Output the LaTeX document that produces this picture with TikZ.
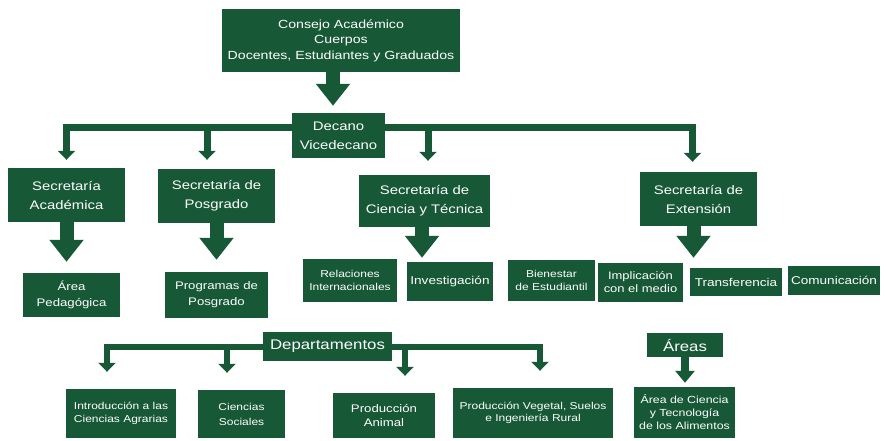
\documentclass[tikz,border=0pt]{standalone}
\usepackage{fontspec}
\setmainfont{Liberation Sans}[FakeStretch=1.2]
\usetikzlibrary{arrows.meta}
\definecolor{dkgreen}{RGB}{23,88,55}

\begin{document}
\begin{tikzpicture}[x=1pt, y=-1pt,
box/.style={rectangle, fill=dkgreen, text=white, align=center, inner sep=1pt},
topbox/.style={box, font=\fontsize{11.8}{15.5}\selectfont},
secbox/.style={box, font=\fontsize{12.4}{19}\selectfont},
unitbox/.style={box, font=\fontsize{11}{16}\selectfont},
subbox/.style={box, font=\fontsize{10}{12.5}\selectfont},
onebox/.style={box, font=\fontsize{11.3}{13}\selectfont},
headbox/.style={box, font=\fontsize{14}{16}\selectfont},
pipe/.style={draw=dkgreen, line width=7pt, -{Triangle[width=17pt,length=9pt]}},
block/.style={draw=dkgreen, line width=14pt, -{Triangle[width=33pt,length=22pt]}},
smallblock/.style={draw=dkgreen, line width=8pt, -{Triangle[width=19pt,length=12pt]}}]

\useasboundingbox (0,0) rectangle (886,441);

%% top of the chart
\node[topbox, minimum width=238pt, minimum height=63pt] (con) at (341,40.5)
      {Consejo Académico\\Cuerpos\\Docentes, Estudiantes y Graduados};
\node[secbox, minimum width=93pt, minimum height=45pt] (dec) at (338.5,135.5)
      {Decano\\Vicedecano};

%% secretarias
\node[secbox, minimum width=117pt, minimum height=54pt] (sa) at (66.5,195) {Secretaría\\Académica};
\node[secbox, minimum width=117pt, minimum height=54pt] (sp) at (216.5,196) {Secretaría de\\Posgrado};
\node[secbox, minimum width=131pt, minimum height=52pt] (sct) at (424.5,201) {Secretaría de\\Ciencia y Técnica};
\node[secbox, minimum width=117pt, minimum height=54pt] (se) at (698.5,199) {Secretaría de\\Extensión};

%% units below the secretarias
\node[unitbox, minimum width=97pt, minimum height=44pt] (ap) at (71.5,295) {Área\\Pedagógica};
\node[unitbox, minimum width=103pt, minimum height=46pt] (pp) at (216.5,295) {Programas de\\Posgrado};
\node[subbox, minimum width=94pt, minimum height=43pt] (ri) at (350,280.5) {Relaciones\\Internacionales};
\node[onebox, minimum width=86pt, minimum height=39pt] (inv) at (450,281.5) {Investigación};
\node[subbox, minimum width=87pt, minimum height=41pt] (bie) at (551.5,280.5) {Bienestar\\de Estudiantil};
\node[subbox, font=\fontsize{10.8}{13}\selectfont, minimum width=85pt, minimum height=39pt] (imp) at (640.5,282.5) {Implicación\\con el medio};
\node[onebox, minimum width=92pt, minimum height=28pt] (tra) at (736,282) {Transferencia};
\node[onebox, minimum width=92pt, minimum height=29pt] (com) at (834,280.5) {Comunicación};

%% departamentos and areas
\node[headbox, minimum width=129pt, minimum height=29pt] (dep) at (327.5,346.5) {Departamentos};
\node[headbox, minimum width=76pt, minimum height=24pt] (are) at (685,345) {Áreas};

\node[subbox, minimum width=110pt, minimum height=49pt] (ia) at (121,413.5) {Introducción a las\\Ciencias Agrarias};
\node[subbox, font=\fontsize{10}{15}\selectfont, minimum width=87pt, minimum height=48pt] (cs) at (241.5,414) {Ciencias\\Sociales};
\node[subbox, font=\fontsize{11}{13.5}\selectfont, minimum width=102pt, minimum height=45pt] (pa) at (384,415.5) {Producción\\Animal};
\node[subbox, minimum width=160pt, minimum height=50pt] (pv) at (533,413) {Producción Vegetal, Suelos\\e Ingeniería Rural};
\node[subbox, font=\fontsize{10.3}{13}\selectfont, minimum width=101pt, minimum height=51pt] (act) at (684.5,412.5)
      {Área de Ciencia\\y Tecnología\\de los Alimentos};

%% bar through decano
\coordinate (hubL) at ([yshift=8pt]dec.west);
\coordinate (hubR) at ([yshift=8pt]dec.east);
\foreach \n/\dx/\gap in {sa/0/8, sp/-9.5/9}{
      \coordinate (\n-in) at ([xshift=\dx pt]\n.north);
      \draw[pipe, shorten >=\gap pt] (hubL) -| (\n-in);
}
\foreach \n/\dx/\gap in {sct/3.5/14, se/-6/10}{
      \coordinate (\n-in) at ([xshift=\dx pt]\n.north);
      \draw[pipe, shorten >=\gap pt] (hubR) -| (\n-in);
}

%% bar through departamentos
\foreach \n/\dx in {ia/-14, cs/-14.5}{
      \coordinate (\n-in) at ([xshift=\dx pt]\n.north);
      \draw[pipe, line width=6pt, shorten >=17pt] (dep.west) -| (\n-in);
}
\foreach \n/\dx in {pa/21, pv/7}{
      \coordinate (\n-in) at ([xshift=\dx pt]\n.north);
      \draw[pipe, line width=6pt, shorten >=17pt] (dep.east) -| (\n-in);
}

%% block arrows
\coordinate (con-out) at ([xshift=-8pt]con.south);
\draw[block, shorten >=7pt] (con-out) -- (con-out |- dec.north);
\draw[block, shorten >=11pt] (sa.south) -- (sa.south |- ap.north);
\draw[block, shorten >=12pt] (sp.south) -- (sp.south |- pp.north);
\draw[block, shorten >=4pt] ([xshift=-2.5pt]sct.south) -- ([xshift=-2.5pt]sct.south |- inv.north);
\coordinate (se-out) at ([xshift=-5pt]se.south);
\draw[block, shorten >=5pt] (se-out) -- (se-out |- imp.north);
\draw[smallblock, shorten >=4pt] (are.south) -- (are.south |- act.north);

\end{tikzpicture}
\end{document}
